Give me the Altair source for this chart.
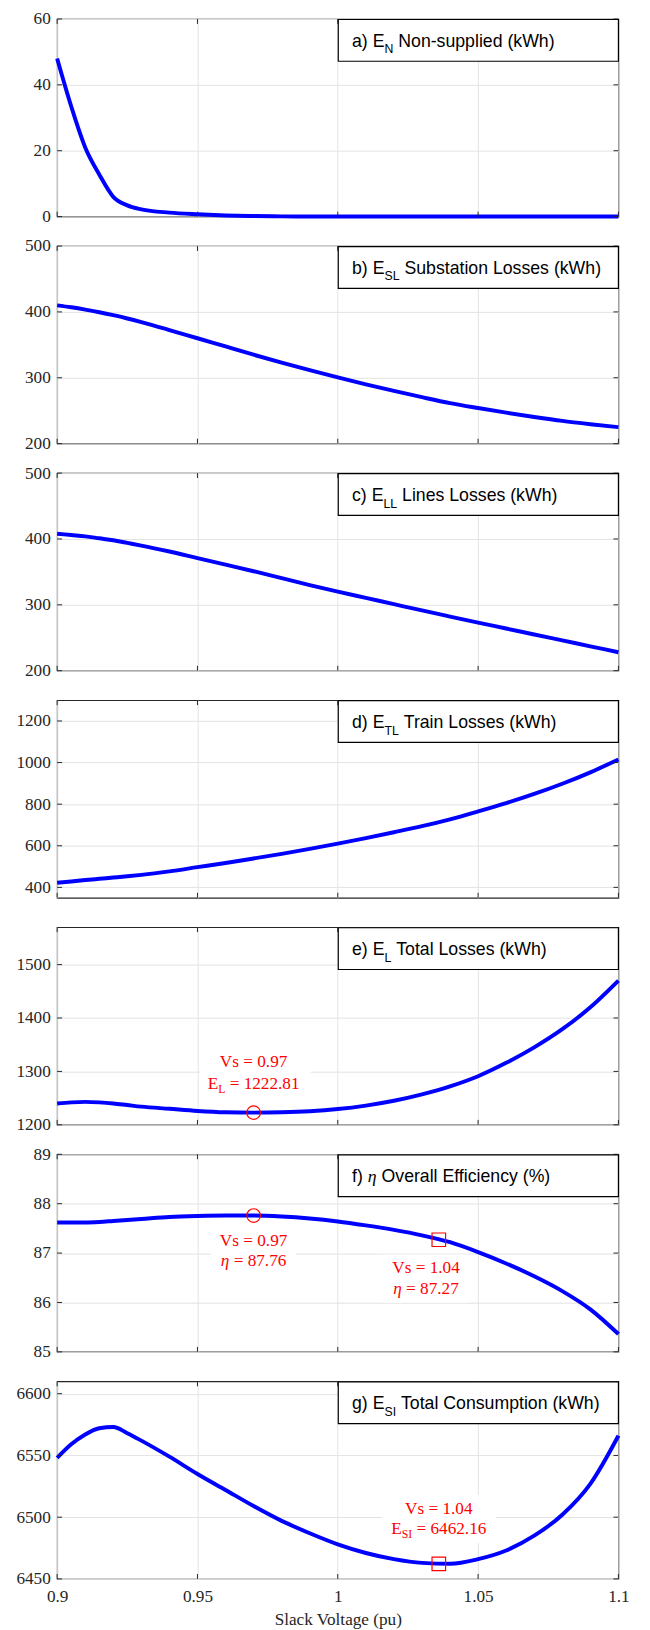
import altair as alt
import pandas as pd

# ---------------- data ----------------
vs = [0.9, 0.905, 0.91, 0.915, 0.92, 0.925, 0.93, 0.94, 0.95, 0.96, 0.97, 0.98, 0.99, 1.0,
      1.01, 1.02, 1.03, 1.04, 1.05, 1.06, 1.07, 1.08, 1.09, 1.1]

e_n = [48, 33.5, 21, 12.8, 6.0, 3.4, 2.2, 1.2, 0.7, 0.35, 0.15, 0.05, 0.02, 0,
       0, 0, 0, 0, 0, 0, 0, 0, 0, 0]
e_sl = [410, 407, 403.5, 399.5, 395, 390, 384.5, 372.5, 360, 347.5, 335, 323, 311.5, 300.5,
        290, 280, 270.5, 261.5, 254, 247, 240.5, 234.5, 229.5, 225]
e_ll = [408, 406, 404, 401, 398, 394, 390, 381, 371, 361, 351, 340.5, 330, 320,
        310.5, 301, 291.5, 282.2, 273, 264, 255, 246, 237, 228]
e_tl = [422, 428, 435, 441, 447, 453, 460, 477, 497, 517, 539, 561, 585, 610,
        637, 665, 694, 727, 765, 805, 849, 898, 953, 1015]
e_l = [1240, 1242, 1243, 1242, 1240, 1237, 1234, 1230, 1226, 1223.5, 1222.8, 1223.5, 1225.5, 1229.5,
       1236, 1245, 1257, 1272, 1291, 1316, 1345, 1379, 1420, 1470]
eta = [87.62, 87.62, 87.62, 87.63, 87.65, 87.67, 87.69, 87.73, 87.75, 87.76, 87.76, 87.74, 87.70, 87.64,
       87.56, 87.47, 87.36, 87.22, 87.02, 86.79, 86.53, 86.23, 85.86, 85.36]
e_si = [6548, 6559, 6567, 6572, 6573, 6568, 6562, 6549, 6535, 6522, 6509, 6497, 6487, 6478,
        6471, 6466, 6463, 6462.3, 6466, 6473, 6485, 6502, 6527, 6566]

series = [e_n, e_sl, e_ll, e_tl, e_l, eta, e_si]
domains = [[0, 60], [200, 500], [200, 500], [350, 1300], [1200, 1570], [85, 89], [6450, 6610]]
y_ticks = [[0, 20, 40, 60], [200, 300, 400, 500], [200, 300, 400, 500],
           [400, 600, 800, 1000, 1200], [1200, 1300, 1400, 1500], [85, 86, 87, 88, 89],
           [6450, 6500, 6550, 6600]]
x_ticks = [0.9, 0.95, 1.0, 1.05, 1.1]
x_title = "Slack Voltage (pu)"

# panel titles: (text, kind) m = main, s = subscript, g = greek
titles = [
    [("a) E", "m"), ("N", "s"), (" Non-supplied (kWh)", "m")],
    [("b) E", "m"), ("SL", "s"), (" Substation Losses (kWh)", "m")],
    [("c) E", "m"), ("LL", "s"), (" Lines Losses (kWh)", "m")],
    [("d) E", "m"), ("TL", "s"), (" Train Losses (kWh)", "m")],
    [("e) E", "m"), ("L", "s"), (" Total Losses (kWh)", "m")],
    [("f) ", "m"), ("η", "g"), (" Overall Efficiency (%)", "m")],
    [("g) E", "m"), ("SI", "s"), (" Total Consumption (kWh)", "m")],
]

# annotations
ann_panel = [4, 5, 5, 6]
ann_x = [0.97, 0.97, 1.036, 1.036]
ann_y = [1222.81, 87.76, 87.27, 6462.16]
ann_shape = ["circle", "circle", "square", "square"]
ann_line1 = ["Vs = 0.97", "Vs = 0.97", "Vs = 1.04", "Vs = 1.04"]
ann_sym = [[("E", "m"), ("L", "s")], [("η", "g")], [("η", "g")], [("E", "m"), ("SI", "s")]]
ann_val = [" = 1222.81", " = 87.76", " = 87.27", " = 6462.16"]

# ---------------- style ----------------
W, H = 571, 201
FS, SUB = 17.5, 12
TFS, TSUB = 18, 12.5
SANS, SERIF = "Liberation Sans", "Liberation Serif"
AX = "#262626"
GRID = "#e2e2e2"
BLUE = "#0000ff"
RED = "#ff0000"

# annotation layout (pixel offsets relative to marker): text dx, line dys, box (cx, w, top, bottom)
ann_layout = [
    dict(dx=0, dys=(-51, -29), box=(2, 112, -66, -14)),
    dict(dx=0, dys=(26, 46), box=(0, 86, 12, 60)),
    dict(dx=-13, dys=(29, 50), box=(-14, 86, 15, 64)),
    dict(dx=0, dys=(-56, -35), box=(0, 116, -70, -21)),
]

ARIAL = {' ': 278, '(': 333, ')': 333, '%': 889, '-': 333,
         'a': 556, 'b': 556, 'c': 500, 'd': 556, 'e': 556, 'f': 278, 'g': 556, 'h': 556,
         'i': 222, 'k': 500, 'l': 222, 'm': 833, 'n': 556, 'o': 556, 'p': 556, 'r': 333,
         's': 500, 't': 278, 'u': 556, 'v': 500, 'y': 500,
         'C': 722, 'E': 667, 'I': 278, 'L': 556, 'N': 722, 'O': 778, 'S': 667, 'T': 611, 'W': 944}
TIMES = {' ': 250, '=': 564, '.': 250, 'V': 722, 's': 389, 'E': 611, 'L': 611, 'S': 556,
         'I': 333, 'η': 500}
for d in "0123456789":
    TIMES[d] = 500


def tw(text, table, size):
    return sum(table.get(c, 556) for c in text) * size / 1000.0


def split_lead(text):
    stripped = text.lstrip(" ")
    return len(text) - len(stripped), stripped


x_scale = alt.Scale(domain=[0.9, 1.1], nice=False, zero=False)


def y_scale(dom):
    return alt.Scale(domain=dom, nice=False, zero=False)


def one(text):
    return pd.DataFrame({"t": [text]})


AXIS_STYLE = dict(labelFont=SERIF, labelFontSize=FS, labelColor=AX, labelPadding=7,
                  domain=False, ticks=False, grid=True, gridColor=GRID, gridWidth=1,
                  gridOpacity=1)


def panel(i, last):
    dom = domains[i]
    df = pd.DataFrame({"vs": vs, "val": series[i]})
    if last:
        xax = alt.Axis(values=x_ticks, format="~g", labelFlush=False,
                       titleFont=SERIF, titleFontSize=FS, titleColor=AX,
                       titleFontWeight="normal", titlePadding=6,
                       **{**AXIS_STYLE, "labelPadding": 9})
        xt = x_title
    else:
        xax = alt.Axis(values=x_ticks, labels=False, minExtent=0, maxExtent=0, **AXIS_STYLE)
        xt = None
    yax = alt.Axis(values=y_ticks[i], format="d", minExtent=45, maxExtent=45, **AXIS_STYLE)

    def XE(field):
        return alt.X(field, scale=x_scale, axis=xax, title=xt)

    def YE(field):
        return alt.Y(field, scale=y_scale(dom), axis=yax, title=None)

    layers = []

    # white boxes behind annotation text (drawn under the curve)
    for k in range(len(ann_panel)):
        if ann_panel[k] != i:
            continue
        cx, bw, top, bot = ann_layout[k]["box"]
        s = bw / 2.0
        path = "M{a},{t}H{b}V{u}H{a}Z".format(a=round(cx / s - 1, 4), b=round(cx / s + 1, 4),
                                              t=round(top / s, 4), u=round(bot / s, 4))
        adf = pd.DataFrame({"vs": [ann_x[k]], "val": [ann_y[k]]})
        layers.append(alt.Chart(adf).mark_point(shape=path, filled=True, color="white", opacity=1,
                                                size=bw * bw, strokeWidth=0).encode(
            x=XE("vs:Q"), y=YE("val:Q")))

    layers.append(alt.Chart(df).mark_line(color=BLUE, strokeWidth=4, interpolate="monotone")
                  .encode(x=XE("vs:Q"), y=YE("val:Q")))

    # inward ticks
    ytk = pd.DataFrame({"val": y_ticks[i]})
    xtk = pd.DataFrame({"vs": x_ticks})
    layers.append(alt.Chart(ytk).mark_rule(color=AX, strokeWidth=1).encode(
        y=YE("val:Q"), x=alt.value(0), x2=alt.value(5)))
    layers.append(alt.Chart(ytk).mark_rule(color=AX, strokeWidth=1).encode(
        y=YE("val:Q"), x=alt.value(W - 5), x2=alt.value(W)))
    layers.append(alt.Chart(xtk).mark_rule(color=AX, strokeWidth=1).encode(
        x=XE("vs:Q"), y=alt.value(H - 5), y2=alt.value(H)))
    layers.append(alt.Chart(xtk).mark_rule(color=AX, strokeWidth=1).encode(
        x=XE("vs:Q"), y=alt.value(0), y2=alt.value(5)))

    # annotation markers and text
    for k in range(len(ann_panel)):
        if ann_panel[k] != i:
            continue
        lay = ann_layout[k]
        adf = pd.DataFrame({"vs": [ann_x[k]], "val": [ann_y[k]]})
        layers.append(alt.Chart(adf).mark_point(shape=ann_shape[k], filled=False, color=RED,
                                                opacity=1, size=190, strokeWidth=1.2)
                      .encode(x=XE("vs:Q"), y=YE("val:Q")))
        # line 1
        layers.append(alt.Chart(adf.assign(t=ann_line1[k])).mark_text(
            align="center", baseline="middle", font=SERIF, fontSize=FS, color=RED,
            dx=lay["dx"], dy=lay["dys"][0]).encode(x=XE("vs:Q"), y=YE("val:Q"), text="t:N"))
        # line 2 (symbol with subscript + value)
        parts = ann_sym[k] + [(ann_val[k], "m")]
        widths = [tw(txt, TIMES, SUB if kind == "s" else FS) for txt, kind in parts]
        pos = lay["dx"] - sum(widths) / 2.0
        for (txt, kind), wdt in zip(parts, widths):
            size = SUB if kind == "s" else FS
            lead, body = split_lead(txt)
            props = dict(align="left", baseline="middle", font=SERIF, color=RED,
                         fontSize=size,
                         dx=round(pos + lead * TIMES[' '] * size / 1000.0, 2),
                         dy=lay["dys"][1] + (5 if kind == "s" else 0))
            if kind == "g":
                props["fontStyle"] = "italic"
            layers.append(alt.Chart(adf.assign(t=body)).mark_text(**props)
                          .encode(x=XE("vs:Q"), y=YE("val:Q"), text="t:N"))
            pos += wdt

    # title box
    layers.append(alt.Chart(one("")).mark_rect(fill="white", stroke="black", strokeWidth=1.2)
                  .encode(x=alt.value(286), x2=alt.value(W), y=alt.value(0.5), y2=alt.value(43)))
    px = 300.0
    for txt, kind in titles[i]:
        lead, body = split_lead(txt)
        if kind == "m":
            props = dict(font=SANS, fontSize=TFS)
            py = 28
            sp = ARIAL[' '] * TFS / 1000.0
            wdt = tw(txt, ARIAL, TFS)
        elif kind == "s":
            props = dict(font=SANS, fontSize=TSUB)
            py = 35
            sp = ARIAL[' '] * TSUB / 1000.0
            wdt = tw(txt, ARIAL, TSUB)
        else:
            props = dict(font=SERIF, fontSize=TFS, fontStyle="italic")
            py = 28
            sp = TIMES[' '] * TFS / 1000.0
            wdt = tw(txt, TIMES, TFS)
        layers.append(alt.Chart(one(body)).mark_text(align="left", baseline="alphabetic",
                                                     color="black", **props)
                      .encode(x=alt.value(round(px + lead * sp, 2)), y=alt.value(py), text="t:N"))
        px += wdt

    return alt.layer(*layers).properties(width=W, height=H)


charts = [panel(i, i == 6) for i in range(7)]

chart = (alt.vconcat(*charts, spacing=30, bounds="flush")
         .properties(padding={"left": 4, "top": -13, "right": 12, "bottom": 0})
         .configure_view(stroke=AX, strokeWidth=1.2))

chart.save("out.html", embed_options={"renderer": "svg", "actions": False})
